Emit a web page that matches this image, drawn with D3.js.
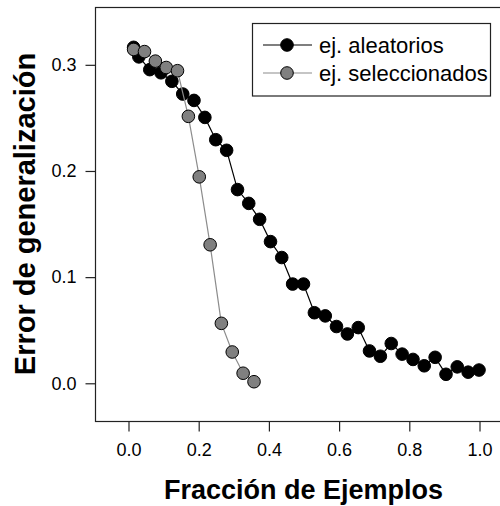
<!DOCTYPE html>
<html>
<head>
<meta charset="utf-8">
<script src="https://cdn.jsdelivr.net/npm/d3@7"></script>
<style>
  html, body { margin: 0; padding: 0; background: #fff; }
  svg { display: block; font-family: "Liberation Sans", Arial, sans-serif; }
</style>
</head>
<body>
<svg id="chart" width="500" height="506"></svg>
<script>
// Fraction of training examples (x) and generalization error (y)
const xAleatorios = [0.016, 0.031, 0.062, 0.094, 0.125, 0.156, 0.188, 0.219, 0.250, 0.281,
                     0.312, 0.344, 0.375, 0.406, 0.438, 0.469, 0.500, 0.531, 0.562, 0.594,
                     0.625, 0.656, 0.688, 0.719, 0.750, 0.781, 0.812, 0.844, 0.875, 0.906,
                     0.938, 0.969, 1.000];
const yAleatorios = [0.316, 0.307, 0.295, 0.292, 0.284, 0.272, 0.266, 0.250, 0.229, 0.219,
                     0.182, 0.169, 0.154, 0.133, 0.118, 0.093, 0.093, 0.066, 0.063, 0.053,
                     0.046, 0.052, 0.030, 0.025, 0.037, 0.027, 0.022, 0.016, 0.024, 0.008,
                     0.015, 0.010, 0.012];
const xSeleccionados = [0.016, 0.047, 0.078, 0.109, 0.141, 0.172, 0.203, 0.234, 0.266, 0.297,
                        0.328, 0.359];
const ySeleccionados = [0.314, 0.312, 0.303, 0.297, 0.294, 0.251, 0.194, 0.130, 0.056, 0.029,
                        0.009, 0.001];

const xTicks = [0.0, 0.2, 0.4, 0.6, 0.8, 1.0];
const yTicks = [0.0, 0.1, 0.2, 0.3];
const seriesNames = ["ej. aleatorios", "ej. seleccionados"];
const xTitle = "Fracción de Ejemplos";
const yTitle = "Error de generalización";

const svg = d3.select("#chart");

// Plot region limits (data units) and pixel box
const xLim = [-0.094, 1.094];
const yLim = [-0.036, 0.354];
const x = d3.scaleLinear().domain(xLim).range([95, 512]);
const y = d3.scaleLinear().domain(yLim).range([421, 7]);

const fmt = d3.format(".1f");

// Frame
svg.append("rect")
  .attr("x", x(xLim[0]) + 0.5).attr("y", y(yLim[1]) + 0.5)
  .attr("width", x(xLim[1]) - x(xLim[0])).attr("height", y(yLim[0]) - y(yLim[1]))
  .attr("fill", "none").attr("stroke", "#222").attr("stroke-width", 1.2);

// Bottom axis
const xAxis = d3.axisBottom(x).tickValues(xTicks).tickFormat(fmt).tickSize(10).tickPadding(12);
const gx = svg.append("g").attr("transform", `translate(0.5,${y(yLim[0]) + 0.5})`).call(xAxis);
gx.select(".domain").remove();
gx.selectAll("line").attr("stroke", "#222").attr("stroke-width", 1.2);
gx.selectAll("text").attr("font-size", 18).attr("fill", "#000")
  .attr("font-family", "Liberation Sans, Arial, sans-serif");

// Left axis
const yAxis = d3.axisLeft(y).tickValues(yTicks).tickFormat(fmt).tickSize(10).tickPadding(9);
const gy = svg.append("g").attr("transform", `translate(${x(xLim[0]) + 0.5},0.5)`).call(yAxis);
gy.select(".domain").remove();
gy.selectAll("line").attr("stroke", "#222").attr("stroke-width", 1.2);
gy.selectAll("text").attr("font-size", 18).attr("fill", "#000")
  .attr("font-family", "Liberation Sans, Arial, sans-serif");

// Axis titles
svg.append("text")
  .attr("x", (x(xLim[0]) + x(xLim[1])) / 2).attr("y", 499)
  .attr("text-anchor", "middle").attr("font-weight", "bold").attr("font-size", 27)
  .text(xTitle);
svg.append("text")
  .attr("transform", `translate(35,${(y(yLim[0]) + y(yLim[1])) / 2}) rotate(-90)`)
  .attr("text-anchor", "middle").attr("font-weight", "bold").attr("font-size", 29)
  .text(yTitle);

const series = [
  { name: seriesNames[0], xs: xAleatorios, ys: yAleatorios, line: "#000", fill: "#000" },
  { name: seriesNames[1], xs: xSeleccionados, ys: ySeleccionados, line: "#8c8c8c", fill: "#808080" }
];

const line = d3.line().x(d => x(d[0])).y(d => y(d[1]));

series.forEach(s => {
  const pts = s.xs.map((v, i) => [v, s.ys[i]]);
  svg.append("path").datum(pts)
    .attr("d", line).attr("fill", "none").attr("stroke", s.line).attr("stroke-width", 1.2);
  svg.append("g").selectAll("circle").data(pts).join("circle")
    .attr("cx", d => x(d[0])).attr("cy", d => y(d[1])).attr("r", 6.3)
    .attr("fill", s.fill).attr("stroke", "#000").attr("stroke-width", 1);
});

// Legend
const lg = svg.append("g");
lg.append("rect").attr("x", 252.5).attr("y", 23.5).attr("width", 238).attr("height", 72.5)
  .attr("fill", "#fff").attr("stroke", "#222").attr("stroke-width", 1.2);
series.forEach((s, i) => {
  const cy = 45 + i * 28;
  lg.append("line").attr("x1", 263).attr("x2", 312).attr("y1", cy).attr("y2", cy)
    .attr("stroke", s.line).attr("stroke-width", 1.2);
  lg.append("circle").attr("cx", 287).attr("cy", cy).attr("r", 6.3)
    .attr("fill", s.fill).attr("stroke", "#000").attr("stroke-width", 1);
  lg.append("text").attr("x", 319).attr("y", cy).attr("dy", "0.36em")
    .attr("font-size", 22).text(s.name);
});
</script>
</body>
</html>
